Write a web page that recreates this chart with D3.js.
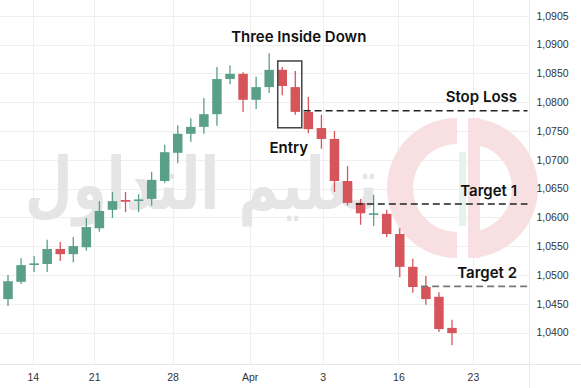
<!DOCTYPE html>
<html>
<head>
<meta charset="utf-8">
<script src="https://cdn.jsdelivr.net/npm/d3@7"></script>
<style>
  body { margin: 0; background: #fff; }
  svg { display: block; }
</style>
</head>
<body>
<svg id="chart" width="581" height="388"></svg>
<script>
// daily candles
let opens  = [1.0458, 1.0488, 1.0518, 1.0519, 1.0545, 1.0536, 1.0548, 1.0581, 1.0613, 1.0630, 1.0629, 1.0632,
              1.0663, 1.0712, 1.0745, 1.0757, 1.0779, 1.0840, 1.0849, 1.0804, 1.0826, 1.0856, 1.0826, 1.0783,
              1.0755, 1.0736, 1.0663, 1.0625, 1.0605, 1.0606, 1.0571, 1.0514, 1.0479, 1.0462, 1.0408];
let highs  = [1.0500, 1.0529, 1.0533, 1.0561, 1.0557, 1.0566, 1.0599, 1.0628, 1.0644, 1.0644, 1.0640, 1.0679,
              1.0726, 1.0760, 1.0772, 1.0807, 1.0861, 1.0864, 1.0852, 1.0844, 1.0885, 1.0861, 1.0854, 1.0809,
              1.0778, 1.0750, 1.0689, 1.0632, 1.0639, 1.0613, 1.0581, 1.0528, 1.0498, 1.0470, 1.0422];
let lows   = [1.0446, 1.0484, 1.0505, 1.0505, 1.0524, 1.0522, 1.0542, 1.0575, 1.0599, 1.0609, 1.0609, 1.0620,
              1.0660, 1.0694, 1.0731, 1.0745, 1.0759, 1.0831, 1.0783, 1.0788, 1.0816, 1.0812, 1.0778, 1.0746,
              1.0719, 1.0644, 1.0621, 1.0587, 1.0585, 1.0566, 1.0496, 1.0469, 1.0448, 1.0401, 1.0378];
let closes = [1.0489, 1.0517, 1.0520, 1.0545, 1.0536, 1.0550, 1.0583, 1.0611, 1.0628, 1.0627, 1.0631, 1.0665,
              1.0713, 1.0745, 1.0757, 1.0779, 1.0840, 1.0849, 1.0804, 1.0826, 1.0856, 1.0828, 1.0783, 1.0753,
              1.0736, 1.0663, 1.0625, 1.0607, 1.0607, 1.0571, 1.0514, 1.0479, 1.0458, 1.0406, 1.0399];

let yTicks = [1.095, 1.090, 1.085, 1.080, 1.075, 1.070, 1.065, 1.060, 1.055, 1.050, 1.045, 1.040];
let yTickLabels = ["1,0905", "1,0900", "1,0850", "1,0800", "1,0750", "1,0700", "1,0650", "1,0600",
                   "1,0550", "1,0500", "1,0450", "1,0400"];
// tick positions in candle-index units
let xTicks = [1.9, 6.6, 12.6, 18.5, 24.1, 29.9, 35.6];
let xTickLabels = ["14", "21", "28", "Apr", "3", "16", "23"];

let levelNames  = ["Stop Loss", "Target 1", "Target 2"];
let levelPrices = [1.0785, 1.0623, 1.0480];
let levelStart  = [23, 27, 32];
let levelColors = ["#222", "#222", "#777"];

let patternCandles = [21, 22];
let patternName = "Three Inside Down";
let entryLabel = "Entry";
let watermarkText = "تعليم التداول";

let width = 581, height = 388;
let plotRight = 529.5, axisY = 364.5;
let green = "#5a9f87", red = "#d6555b";
let bodyW = 9.5;

let svg = d3.select("#chart");

let x = d3.scaleLinear().domain([0, opens.length - 1]).range([8, 452]);
let y = d3.scaleLinear().domain([1.04, 1.09]).range([332.5, 44.5]);

svg.append("rect").attr("width", width).attr("height", height).attr("fill", "#fff");

// grid
let grid = svg.append("g");
grid.selectAll(".hgrid")
    .data(yTicks)
    .enter()
    .append("line")
    .attr("x1", 0)
    .attr("x2", plotRight)
    .attr("y1", d => Math.round(y(d)) + 0.5)
    .attr("y2", d => Math.round(y(d)) + 0.5)
    .attr("stroke", "#efefef");
grid.selectAll(".vgrid")
    .data(xTicks)
    .enter()
    .append("line")
    .attr("x1", d => Math.round(x(d)) + 0.5)
    .attr("x2", d => Math.round(x(d)) + 0.5)
    .attr("y1", 0)
    .attr("y2", axisY)
    .attr("stroke", "#efefef");
svg.append("line").attr("x1", plotRight).attr("x2", plotRight).attr("y1", 0).attr("y2", height)
    .attr("stroke", "#e8e8e8");
svg.append("line").attr("x1", 0).attr("x2", width).attr("y1", axisY).attr("y2", axisY)
    .attr("stroke", "#e8e8e8");

// watermark
let wm = svg.append("g");
wm.append("text")
    .attr("x", 25)
    .attr("y", 209)
    .attr("textLength", 353)
    .attr("lengthAdjust", "spacingAndGlyphs")
    .style("font-family", "'DejaVu Sans'")
    .style("font-weight", "bold")
    .style("font-size", "72px")
    .attr("fill", "#e5e5e5")
    .text(watermarkText);

let cx = 462, cy = 188, R = 70, r = 44;
let pink = "#f8dfe1";
wm.append("path")
    .attr("transform", `translate(${cx - 5},${cy})`)
    .attr("d", d3.arc().innerRadius(r).outerRadius(R).startAngle(Math.PI).endAngle(2 * Math.PI)())
    .attr("fill", pink);
wm.append("path")
    .attr("transform", `translate(${cx + 6},${cy})`)
    .attr("d", d3.arc().innerRadius(r).outerRadius(R).startAngle(0).endAngle(Math.PI)())
    .attr("fill", pink);
wm.append("rect")
    .attr("x", cx + 6).attr("y", cy - R).attr("width", 12).attr("height", 2 * R)
    .attr("fill", pink);
wm.append("rect")
    .attr("x", cx - 3).attr("y", cy - 36).attr("width", 7).attr("height", 74)
    .attr("fill", "#e6f2ec");

// candles
let candles = d3.range(opens.length).map(i => ({i: i, o: opens[i], h: highs[i], l: lows[i], c: closes[i]}));
let candleColor = d => d.c >= d.o ? green : red;

let cg = svg.append("g");
cg.selectAll(".wick")
    .data(candles)
    .enter()
    .append("line")
    .attr("x1", d => x(d.i))
    .attr("x2", d => x(d.i))
    .attr("y1", d => y(d.h))
    .attr("y2", d => y(d.l))
    .attr("stroke", candleColor)
    .attr("stroke-width", 1.3);
cg.selectAll(".body")
    .data(candles)
    .enter()
    .append("rect")
    .attr("x", d => x(d.i) - bodyW / 2)
    .attr("y", d => y(Math.max(d.o, d.c)))
    .attr("width", bodyW)
    .attr("height", d => Math.max(1.6, Math.abs(y(d.o) - y(d.c))))
    .attr("fill", candleColor);

// stop / target levels
let labelFont = sel => sel
    .attr("dominant-baseline", "central")
    .style("font-family", "Inter")
    .style("font-weight", 600)
    .style("font-size", "15px")
    .attr("fill", "#111");

let lv = svg.append("g");
levelPrices.forEach((p, i) => {
    lv.append("line")
        .attr("x1", x(levelStart[i]) - bodyW / 2)
        .attr("x2", plotRight - 2)
        .attr("y1", y(p))
        .attr("y2", y(p))
        .attr("stroke", levelColors[i])
        .attr("stroke-width", 1.6)
        .attr("stroke-dasharray", "7,4");
    lv.append("text")
        .attr("x", 517)
        .attr("y", y(p) - 14)
        .attr("text-anchor", "end")
        .call(labelFont)
        .text(levelNames[i]);
});

// pattern box
let bx0 = x(patternCandles[0]) - 4.5;
let bx1 = x(patternCandles[1]) + 6.5;
let by0 = y(d3.max(patternCandles, i => highs[i])) - 6;
let by1 = y(d3.min(patternCandles, i => lows[i])) + 13;
svg.append("rect")
    .attr("x", bx0).attr("y", by0)
    .attr("width", bx1 - bx0).attr("height", by1 - by0)
    .attr("fill", "none")
    .attr("stroke", "#444")
    .attr("stroke-width", 1.5);
svg.append("text")
    .attr("x", (bx0 + bx1) / 2 + 9)
    .attr("y", by0 - 24)
    .attr("text-anchor", "middle")
    .call(labelFont)
    .text(patternName);
svg.append("text")
    .attr("x", (bx0 + bx1) / 2 - 1)
    .attr("y", by1 + 20)
    .attr("text-anchor", "middle")
    .call(labelFont)
    .text(entryLabel);

// axes
let yAxis = d3.axisRight(y)
    .tickValues(yTicks)
    .tickFormat((d, i) => yTickLabels[i])
    .tickSize(0)
    .tickPadding(7);
let ya = svg.append("g").attr("transform", `translate(${plotRight},0)`).call(yAxis);

let xAxis = d3.axisBottom(x)
    .tickValues(xTicks)
    .tickFormat((d, i) => xTickLabels[i])
    .tickSize(0)
    .tickPadding(9);
let xa = svg.append("g").attr("transform", `translate(0,${axisY})`).call(xAxis);

[ya, xa].forEach(a => {
    a.select(".domain").remove();
    a.selectAll("text")
        .style("font-family", "'Liberation Sans', Arial, sans-serif")
        .style("font-size", "10.5px")
        .attr("fill", "#333");
});
</script>
</body>
</html>
